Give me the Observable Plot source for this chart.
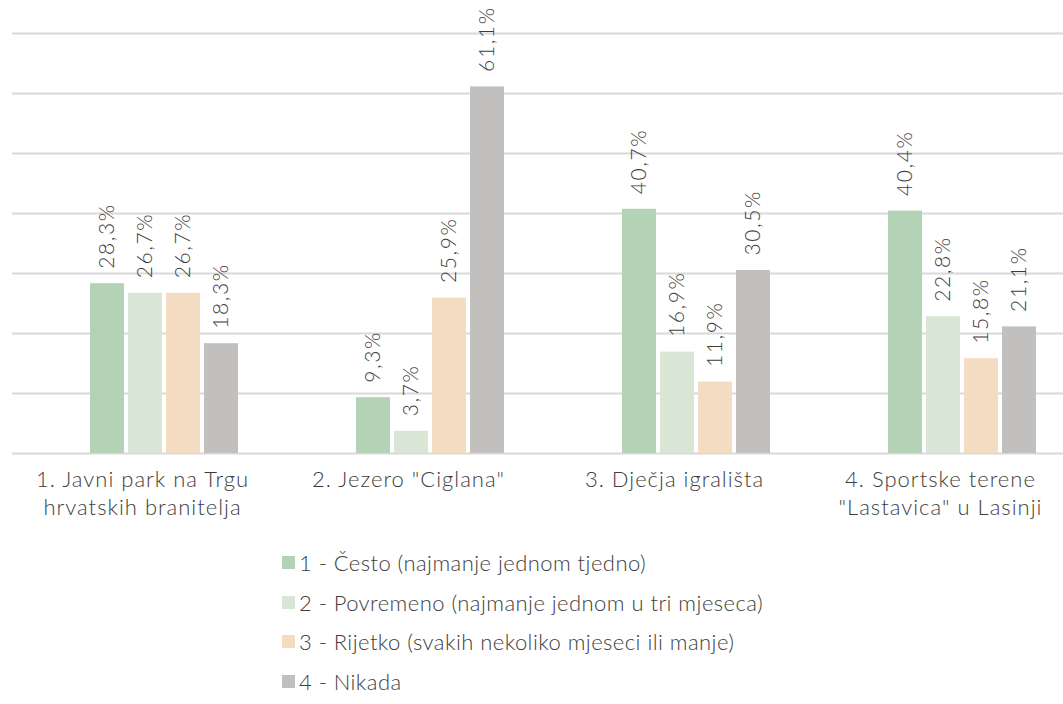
<!DOCTYPE html>
<html>
<head>
<meta charset="utf-8">
<script src="https://cdn.jsdelivr.net/npm/d3@7"></script>
<script src="https://cdn.jsdelivr.net/npm/@observablehq/plot@0.6"></script>
<style>
  html, body { margin: 0; background: #fff; font-family: Lato, "Open Sans", sans-serif; overflow: hidden; }
  #chart svg { overflow: hidden; display: block; }
  #chart g[aria-label="text"] text { letter-spacing: 1.6px; }
  #chart g[aria-label="fx-axis tick label"] text { letter-spacing: 1px; }
  #legend { margin-left: 282px; padding-top: 3px; }
  .item { height: 39.5px; display: flex; align-items: center; font-size: 22px; font-weight: 300; color: #404040; letter-spacing: 0.45px; }
  .sw { width: 13px; height: 13px; margin-right: 4px; flex: none; }
</style>
</head>
<body>
<div id="chart"></div>
<div id="legend"></div>
<script>
const categories = [
  "1. Javni park na Trgu\nhrvatskih branitelja",
  "2. Jezero \"Ciglana\"",
  "3. Dječja igrališta",
  "4. Sportske terene\n\"Lastavica\" u Lasinji"
];
const series = [
  "1 - Često (najmanje jednom tjedno)",
  "2 - Povremeno (najmanje jednom u tri mjeseca)",
  "3 - Rijetko (svakih nekoliko mjeseci ili manje)",
  "4 - Nikada"
];
const cesto     = [28.3, 9.3, 40.7, 40.4];
const povremeno = [26.7, 3.7, 16.9, 22.8];
const rijetko   = [26.7, 25.9, 11.9, 15.8];
const nikada    = [18.3, 61.1, 30.5, 21.1];
const colors = ["#b4d2b6", "#d9e5d5", "#f4dcc3", "#c1c0be"];
const gridTicks = [0, 10, 20, 30, 40, 50, 60, 70];

const seriesValues = [cesto, povremeno, rijetko, nikada];
const data = categories.flatMap((c, i) =>
  series.map((s, j) => ({category: c, series: s, value: seriesValues[j][i]}))
);
const fmt = v => v.toFixed(1).replace(".", ",") + "%";

const chart = Plot.plot({
  width: 1063,
  height: 540,
  marginLeft: 11,
  marginRight: 0,
  marginTop: 33,
  marginBottom: 87,
  style: {fontFamily: "Lato, 'Open Sans', sans-serif", fontSize: "21px", color: "#404040", background: "white", overflow: "hidden"},
  fx: {domain: categories, range: [11, 1077.7], padding: 0, label: null},
  x: {domain: series, range: [88, 238], paddingInner: 0.1, paddingOuter: 0, axis: null},
  y: {domain: [0, 70], axis: null},
  color: {domain: series, range: colors},
  marks: [
    Plot.ruleY(gridTicks, {y: d => d, stroke: "#d9d9d9", strokeWidth: 2}),
    Plot.barY(data, {fx: "category", x: "series", y: "value", fill: "series"}),
    Plot.text(data, {
      fx: "category", x: "series", y: "value", text: d => fmt(d.value),
      rotate: -90, textAnchor: "start", dy: -15, fill: "#3d3d3d",
      fontSize: 21, fontWeight: 300
    }),
    Plot.axisFx({
      anchor: "bottom", tickSize: 0, tickPadding: 14, dx: -3,
      lineHeight: 1.25, fontSize: 22, fontWeight: 300, fill: "#3d3d3d", label: null
    })
  ]
});
document.getElementById("chart").appendChild(chart);

const legend = document.getElementById("legend");
series.forEach((s, i) => {
  const item = document.createElement("div");
  item.className = "item";
  const sw = document.createElement("span");
  sw.className = "sw";
  sw.style.background = colors[i];
  const t = document.createElement("span");
  t.textContent = s;
  item.appendChild(sw);
  item.appendChild(t);
  legend.appendChild(item);
});
</script>
</body>
</html>
